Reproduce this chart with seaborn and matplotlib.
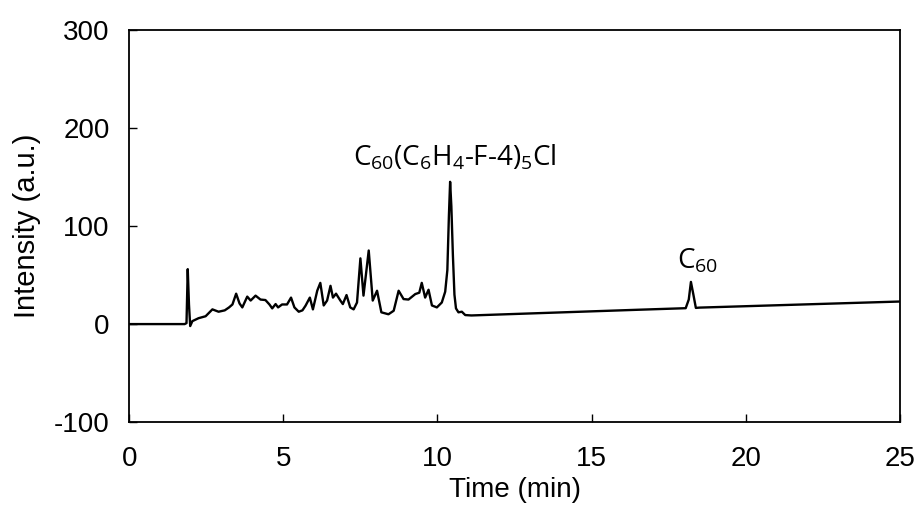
import pandas as pd
import seaborn as sns
import matplotlib.pyplot as plt

# chromatogram (time in min, intensity in a.u.)
time = [0.0, 1.8, 1.86, 1.9, 1.94, 1.98, 2.05, 2.25, 2.48, 2.7, 2.9, 3.1, 3.24, 3.35,
        3.47, 3.58, 3.67, 3.83, 3.94, 4.1, 4.26, 4.42, 4.55, 4.64, 4.75, 4.83, 4.96,
        5.12, 5.25, 5.36, 5.5, 5.62, 5.72, 5.86, 5.96, 6.1, 6.2, 6.31, 6.42, 6.53,
        6.61, 6.71, 6.85, 6.93, 7.05, 7.17, 7.28, 7.39, 7.5, 7.6, 7.77, 7.9, 8.04,
        8.18, 8.41, 8.58, 8.74, 8.9, 9.06, 9.28, 9.41, 9.49, 9.6, 9.71, 9.82, 9.98,
        10.14, 10.25, 10.32, 10.37, 10.41, 10.45, 10.5, 10.55, 10.6, 10.68, 10.79,
        10.9, 11.1, 16.5, 18.05, 18.15, 18.22, 18.3, 18.38, 18.5, 25.0]
intensity = [0, 0, 1, 56, 20, -2, 3, 6, 8, 15, 12.6, 14, 17, 20,
             31, 21, 17, 28, 24, 29, 25, 24.5, 20, 16, 20.4, 17, 20,
             20, 27, 17, 12.6, 14, 18.7, 27, 15, 34, 42, 19, 24, 39,
             27, 31, 24, 20.4, 29.6, 17, 15, 22, 67, 29, 75, 24, 34,
             12, 10, 13.6, 34, 25.5, 25, 30.6, 32, 42, 27, 35, 19, 17,
             22, 33, 55, 110, 145, 120, 70, 30, 16, 12, 12.6,
             9.2, 8.8, 14.6, 16.2, 25, 43, 30, 16.5, 16.8, 23]

df = pd.DataFrame({'Time (min)': time, 'Intensity (a.u.)': intensity})

sns.set_style('ticks')
plt.rcParams['font.family'] = ['Liberation Sans', 'DejaVu Sans']
plt.rcParams['axes.unicode_minus'] = False
plt.rcParams['mathtext.fontset'] = 'custom'
plt.rcParams['mathtext.rm'] = 'Open Sans'
plt.rcParams['mathtext.it'] = 'Open Sans'
plt.rcParams['text.color'] = 'black'
plt.rcParams['axes.labelcolor'] = 'black'
plt.rcParams['xtick.color'] = 'black'
plt.rcParams['ytick.color'] = 'black'
plt.rcParams['axes.edgecolor'] = 'black'

fig = plt.figure(figsize=(9.16, 5.13), dpi=100)
ax = fig.add_axes([0.141, 0.177, 0.8415, 0.765])

sns.lineplot(data=df, x='Time (min)', y='Intensity (a.u.)', color='black',
             linewidth=1.7, ax=ax, sort=False)

ax.set_xlim(0, 25)
ax.set_ylim(-100, 300)
ax.set_xticks([0, 5, 10, 15, 20, 25])
ax.set_yticks([-100, 0, 100, 200, 300])
ax.tick_params(direction='in', length=6, width=1, labelsize=20,
               top=False, right=False)
ax.tick_params(axis='x', pad=17)
ax.tick_params(axis='y', pad=14)
ax.set_xlabel('Time (min)', fontsize=20, labelpad=4)
ax.set_ylabel('Intensity (a.u.)', fontsize=21, labelpad=9)
for s in ax.spines.values():
    s.set_linewidth(1.3)
    s.set_visible(True)

ax.text(10.55, 155, r'C$_{60}$(C$_6$H$_4$-F-4)$_5$Cl', family='Open Sans',
        fontsize=20, ha='center', va='bottom')
ax.text(18.45, 50, r'C$_{60}$', family='Open Sans', fontsize=20,
        ha='center', va='bottom')

plt.savefig('out.png', dpi=100)
